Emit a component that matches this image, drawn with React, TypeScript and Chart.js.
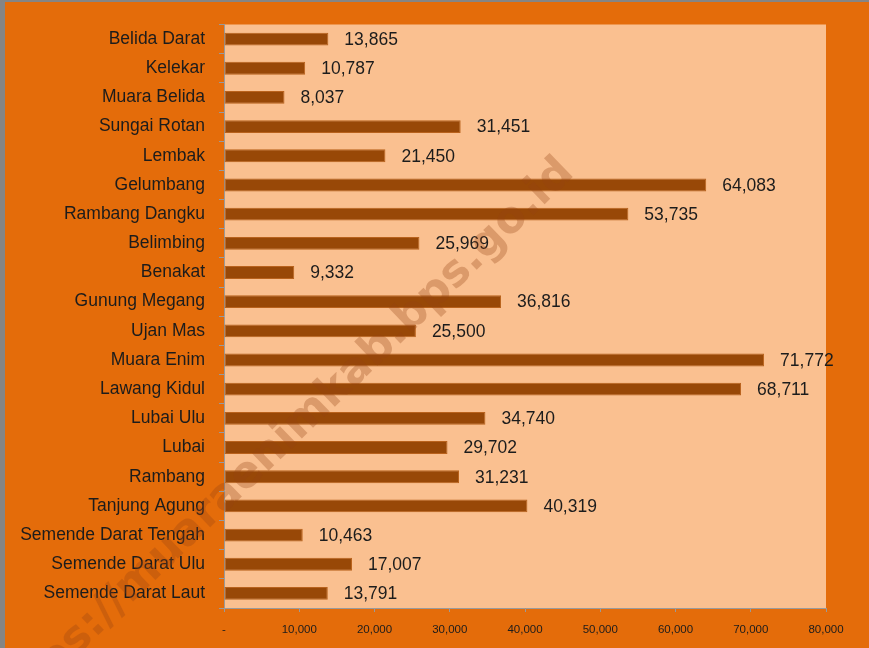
import React, { useEffect, useRef } from "react";
import { Chart, registerables } from "chart.js";

Chart.register(...registerables);

const categories: string[] = [
  "Belida Darat",
  "Kelekar",
  "Muara Belida",
  "Sungai Rotan",
  "Lembak",
  "Gelumbang",
  "Rambang Dangku",
  "Belimbing",
  "Benakat",
  "Gunung Megang",
  "Ujan Mas",
  "Muara Enim",
  "Lawang Kidul",
  "Lubai Ulu",
  "Lubai",
  "Rambang",
  "Tanjung Agung",
  "Semende Darat Tengah",
  "Semende Darat Ulu",
  "Semende Darat Laut",
];

const values: number[] = [
  13865, 10787, 8037, 31451, 21450, 64083, 53735, 25969, 9332, 36816, 25500,
  71772, 68711, 34740, 29702, 31231, 40319, 10463, 17007, 13791,
];

const xTickValues: number[] = [0, 10000, 20000, 30000, 40000, 50000, 60000, 70000, 80000];
const xTickLabels: string[] = [
  "-",
  "10,000",
  "20,000",
  "30,000",
  "40,000",
  "50,000",
  "60,000",
  "70,000",
  "80,000",
];

const watermarkText = "https://muaraenimkab.bps.go.id";

const W = 869;
const H = 648;
const FONT = "'Liberation Sans', Arial, sans-serif";

export default function App() {
  const ref = useRef<HTMLCanvasElement | null>(null);

  useEffect(() => {
    const canvas = ref.current;
    if (!canvas) return;

    const bgPlugin = {
      id: "bgPlugin",
      beforeDraw(chart: any) {
        const { ctx, chartArea } = chart;
        ctx.save();
        ctx.fillStyle = "#E46C0A";
        ctx.fillRect(0, 0, W, H);
        ctx.fillStyle = "#858585";
        ctx.fillRect(0, 0, 5, H);
        ctx.fillRect(0, 0, W, 2);
        ctx.fillStyle = "#FAC090";
        ctx.fillRect(
          chartArea.left,
          chartArea.top,
          chartArea.right - chartArea.left,
          chartArea.bottom - chartArea.top
        );
        ctx.restore();
      },
    };

    const labelPlugin = {
      id: "labelPlugin",
      afterDatasetsDraw(chart: any) {
        const { ctx } = chart;
        const meta = chart.getDatasetMeta(0);
        ctx.save();
        ctx.font = `17.5px ${FONT}`;
        ctx.fillStyle = "#1c1c1c";
        ctx.textAlign = "left";
        ctx.textBaseline = "middle";
        meta.data.forEach((bar: any, i: number) => {
          ctx.fillText(values[i].toLocaleString("en-US"), bar.x + 16, bar.y + 1);
        });
        ctx.restore();
      },
    };

    const watermarkPlugin = {
      id: "watermarkPlugin",
      afterDraw(chart: any) {
        const { ctx } = chart;
        ctx.save();
        ctx.translate(288, 452);
        ctx.rotate((-44 * Math.PI) / 180);
        ctx.font = `bold 44px 'DejaVu Sans', sans-serif`;
        ctx.fillStyle = "rgba(150,65,20,0.3)";
        ctx.textAlign = "center";
        ctx.textBaseline = "alphabetic";
        ctx.fillText(watermarkText, 0, 0);
        ctx.restore();
      },
    };

    const chart = new Chart(canvas, {
      type: "bar",
      data: {
        labels: categories,
        datasets: [
          {
            data: values,
            backgroundColor: "#984807",
            borderColor: "#B9621C",
            borderWidth: 1,
            borderSkipped: false,
            categoryPercentage: 1,
            barPercentage: 0.44,
          },
        ],
      },
      options: {
        indexAxis: "y",
        animation: false,
        responsive: false,
        devicePixelRatio: 1,
        layout: { padding: { top: 22, right: 43, left: 0, bottom: 0 } },
        plugins: {
          legend: { display: false },
          tooltip: { enabled: false },
          title: { display: false },
        },
        scales: {
          x: {
            type: "linear",
            min: 0,
            max: 80000,
            afterFit(scale: any) {
              scale.height = 40;
            },
            afterBuildTicks(scale: any) {
              scale.ticks = xTickValues.map((v) => ({ value: v }));
            },
            ticks: {
              stepSize: 10000,
              padding: 11,
              color: "#1c1c1c",
              font: { size: 11.5, family: FONT },
              maxRotation: 0,
              callback: (v: any) => {
                const idx = xTickValues.indexOf(Number(v));
                return idx >= 0 ? xTickLabels[idx] : "";
              },
            },
            grid: {
              display: true,
              drawOnChartArea: false,
              drawTicks: true,
              tickLength: 4,
              color: "#9a9a9a",
            },
            border: { display: true, color: "#9a9a9a", width: 1 },
          },
          y: {
            type: "category",
            afterFit(scale: any) {
              scale.width = 224;
            },
            ticks: {
              padding: 14,
              color: "#1c1c1c",
              font: { size: 17.5, family: FONT },
              autoSkip: false,
            },
            grid: {
              display: true,
              offset: true,
              drawOnChartArea: false,
              drawTicks: true,
              tickLength: 5,
              color: "#9a9a9a",
            },
            border: { display: true, color: "#9a9a9a", width: 1 },
          },
        },
      },
      plugins: [bgPlugin, labelPlugin, watermarkPlugin],
    } as any);

    return () => {
      chart.destroy();
    };
  }, []);

  return (
    <div style={{ position: "fixed", left: 0, top: 0, width: W, height: H }}>
      <canvas ref={ref} width={W} height={H} style={{ width: W, height: H, display: "block" }} />
    </div>
  );
}
